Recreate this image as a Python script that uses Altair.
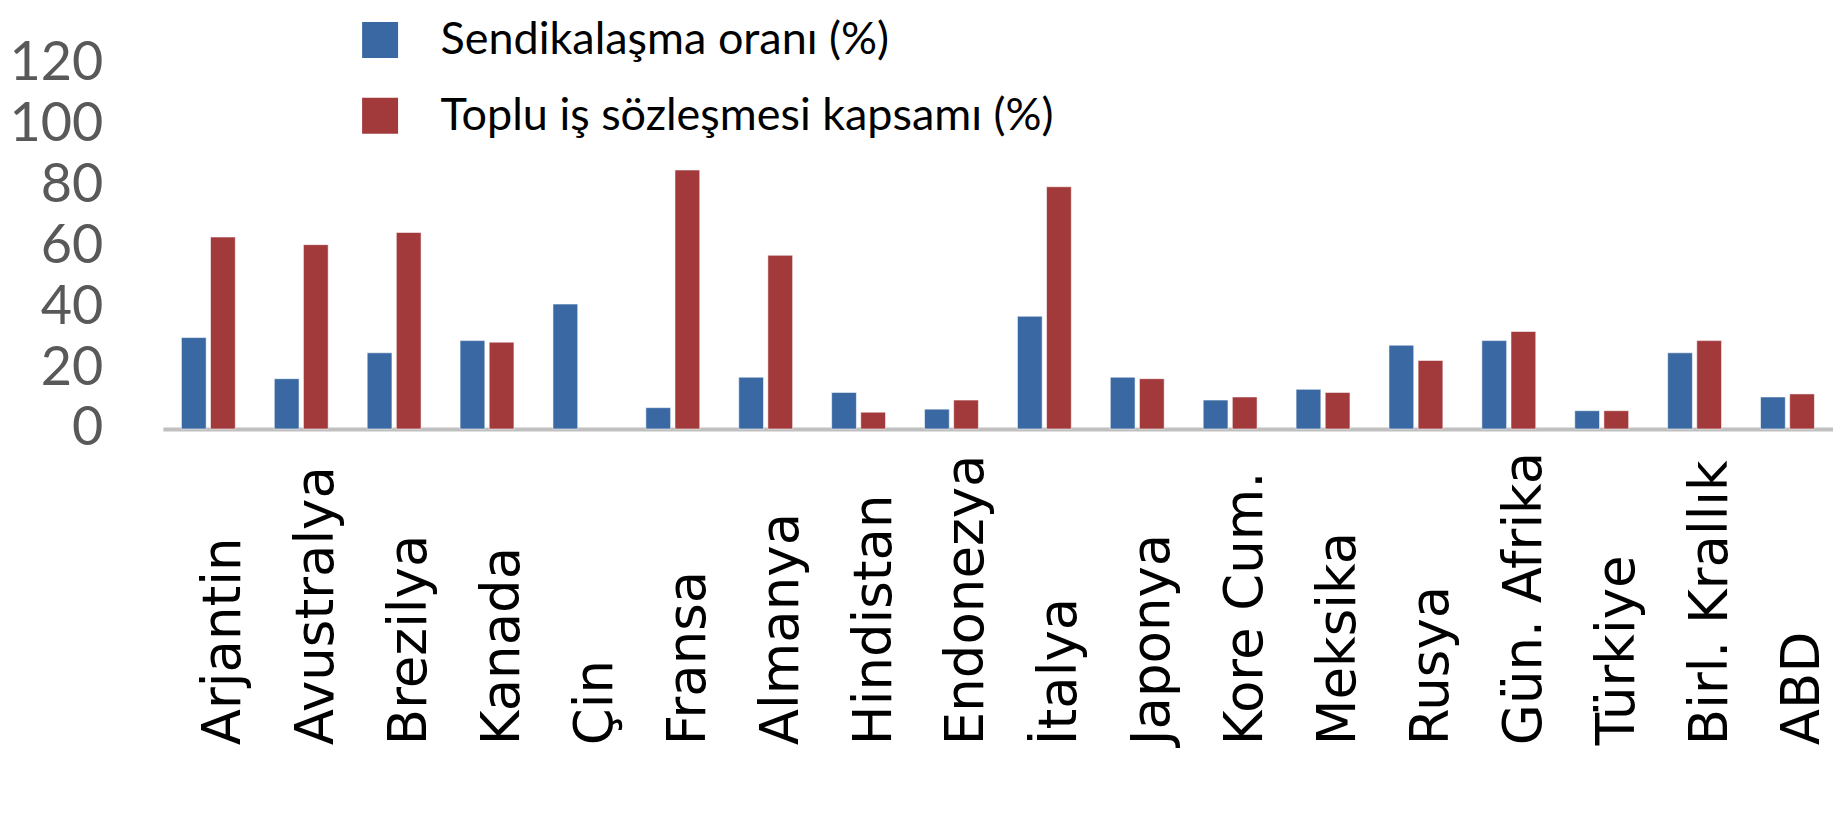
import altair as alt
import pandas as pd

countries = ["Arjantin", "Avustralya", "Brezilya", "Kanada", "Çin", "Fransa",
             "Almanya", "Hindistan", "Endonezya", "İtalya", "Japonya",
             "Kore Cum.", "Meksika", "Rusya", "Gün. Afrika", "Türkiye",
             "Birl. Krallık", "ABD"]
union_rate = [30, 16.5, 25, 29, 41, 7, 17, 12, 6.5, 37, 17, 9.5, 13, 27.5,
              29, 6, 25, 10.5]
coverage = [63, 60.5, 64.5, 28.5, None, 85, 57, 5.5, 9.5, 79.5, 16.5, 10.5,
            12, 22.5, 32, 6, 29, 11.5]
series_names = ["Sendikalaşma oranı (%)", "Toplu iş sözleşmesi kapsamı (%)"]
series_colors = ["#3a68a2", "#a2393b"]
y_ticks = [0, 20, 40, 60, 80, 100, 120]

rows = []
for c, u, v in zip(countries, union_rate, coverage):
    rows.append({"country": c, "series": series_names[0], "value": u})
    rows.append({"country": c, "series": series_names[1], "value": v})
df = pd.DataFrame(rows).dropna()

chart = alt.Chart(df).mark_bar(
    stroke="white", strokeOpacity=0.55, strokeWidth=1
).encode(
    x=alt.X("country:N", sort=countries, title=None,
            scale=alt.Scale(paddingInner=0.42, paddingOuter=0.2),
            axis=alt.Axis(labelAngle=-90, labelAlign="left", labelBaseline="middle",
                          labelPadding=316, labelOffset=16, labelFont="DejaVu Sans",
                          labelFontSize=53, labelColor="#000000", labelLimit=500,
                          labelOverlap=False, labelBound=False, labelFlush=False,
                          ticks=False, domain=True, domainColor="#c0c0c0",
                          domainWidth=4)),
    xOffset=alt.XOffset("series:N", sort=series_names,
                        scale=alt.Scale(paddingInner=0.15, paddingOuter=0)),
    y=alt.Y("value:Q", title=None,
            scale=alt.Scale(domain=[0, 120], nice=False, zero=True),
            axis=alt.Axis(values=y_ticks, grid=False, domain=False, ticks=False,
                          labelFont="Lato", labelFontSize=54, labelColor="#595959",
                          labelPadding=60, labelBaseline="middle")),
    color=alt.Color("series:N", sort=series_names,
                    scale=alt.Scale(domain=series_names, range=series_colors),
                    legend=alt.Legend(orient="none", legendX=195, legendY=-46,
                                      title=None, symbolType="square",
                                      symbolSize=1296, symbolStrokeWidth=0,
                                      labelFont="Lato", labelFontSize=45,
                                      labelColor="#000000", labelLimit=900,
                                      rowPadding=30, labelOffset=38, padding=0,
                                      direction="vertical")),
).properties(
    width=1672, height=366,
    autosize=alt.AutoSizeParams(type="none"),
    padding={"left": 155, "top": 55, "right": 0, "bottom": 370},
).configure(background="white").configure_view(strokeWidth=0, stroke=None)

chart.save("out.html", embed_options={"renderer": "svg", "actions": False})
